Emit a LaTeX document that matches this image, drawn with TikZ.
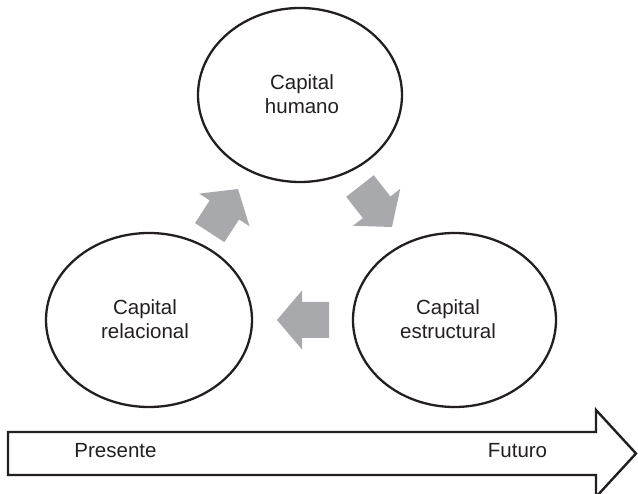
\documentclass[tikz,border=0pt]{standalone}
\usepackage{fontspec}
\setmainfont{Liberation Sans}
\usetikzlibrary{shapes.geometric}
\definecolor{ink}{RGB}{35,31,32}
\definecolor{arrowgray}{RGB}{167,169,172}
\begin{document}
\begin{tikzpicture}[x=1pt,y=-1pt,
  ring/.style={ellipse, draw=ink, line width=2.3pt, inner sep=0pt},
  txt/.style={font=\fontsize{20.5}{24}\selectfont, text=ink, inner sep=0pt, align=center},
  flow/.style={fill=arrowgray, draw=none},
  bar/.style={draw=ink, line width=2.4pt, fill=white, line join=miter}]
\useasboundingbox (0,0) rectangle (638,494);
% circles
\node[ring, minimum width=204pt, minimum height=174pt] (hum) at (300,95) {};
\node[ring, minimum width=206pt, minimum height=174pt] (rel) at (149,320) {};
\node[ring, minimum width=203pt, minimum height=174pt] (est) at (454.5,320) {};
\node[txt] (humT) at (302,94) {Capital\\humano};
\node[txt] (relT) at (145,319) {Capital\\relacional};
\node[txt] (estT) at (448,319) {Capital\\estructural};
% gray flow arrows
\begin{scope}[shift={(238,189)}, rotate=57]
  \fill[flow] (0,0) -- (-25,30) -- (-25,17.5) -- (-52,17.5) -- (-52,-17.5) -- (-25,-17.5) -- (-25,-30) -- cycle;
\end{scope}
\begin{scope}[shift={(392,227)}, rotate=-52]
  \fill[flow] (0,0) -- (-25,30) -- (-25,17.5) -- (-52,17.5) -- (-52,-17.5) -- (-25,-17.5) -- (-25,-30) -- cycle;
\end{scope}
\begin{scope}[shift={(277,320)}, rotate=180]
  \fill[flow] (0,0) -- (-25,29.5) -- (-25,18) -- (-52,18) -- (-52,-18) -- (-25,-18) -- (-25,-29.5) -- cycle;
\end{scope}
% time arrow
\draw[bar] (8,432) -- (596,432) -- (596,410) -- (636,453.5) -- (596,497) -- (596,475) -- (8,475) -- cycle;
\node[txt] (pres) at (115.5,451) {Presente};
\node[txt] (fut) at (517.5,451) {Futuro};
\end{tikzpicture}
\end{document}
